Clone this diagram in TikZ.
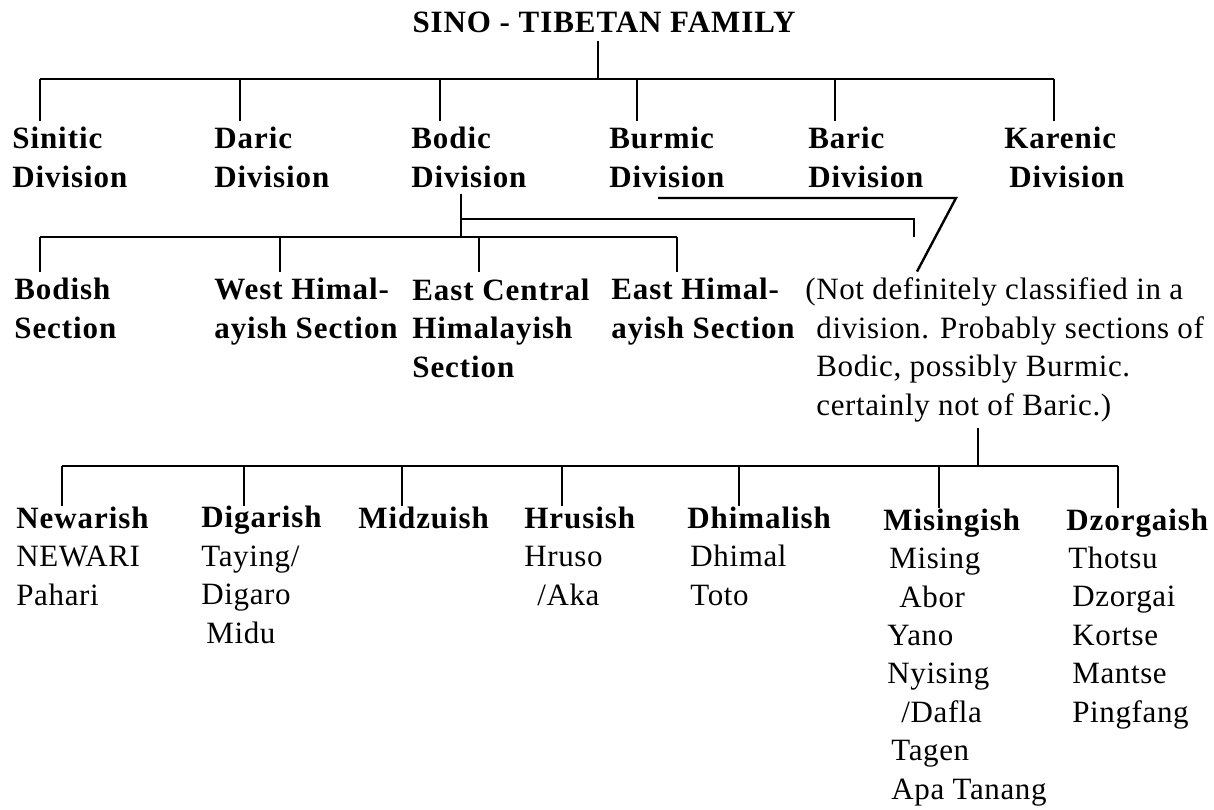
\documentclass[tikz,border=0pt]{standalone}
\usepackage{fontspec}
\setmainfont{Liberation Serif}[LetterSpace=2]
\newfontfamily\hdfont{Liberation Serif}[LetterSpace=3]
\usetikzlibrary{calc}

\tikzset{
	txt/.style={font=\fontsize{15.5}{19.2}\selectfont},
	hd/.style={font=\hdfont\bfseries\fontsize{15.5}{19.2}\selectfont},
	lbl/.style={anchor=base west, align=left, inner xsep=0pt, inner ysep=3pt},
	bar/.style={line width=1.2pt},
	drop/.style={line width=0.6pt}
}

\begin{document}
\begin{tikzpicture}[x=0.5pt,y=-0.5pt] %1px=0.5pt, base = last line
	\newcommand{\barone}{79}
	\newcommand{\bartwo}{237}
	\newcommand{\barthree}{466}
	\useasboundingbox (0,0) rectangle (1214,809);
	\node[hd, anchor=base, inner xsep=0pt, inner ysep=4pt] (fam) at (604,32) {SINO - TIBETAN FAMILY}; %family
	% divisions
	\node[hd,lbl] (sinitic) at (12,187) {Sinitic\\Division};
	\node[hd,lbl] (daric) at (214,187) {Daric\\Division};
	\node[hd,lbl] (bodic) at (411,187) {Bodic\\Division};
	\node[hd,lbl] (burmic) at (609,187) {Burmic\\Division};
	\node[hd,lbl] (baric) at (808,187) {Baric\\Division};
	\node[hd,lbl] (karenic) at (1004,187) {Karenic\\\hspace*{2.5pt}Division};
	\coordinate (famj) at (598,\barone);
	\draw[drop] (fam.south -| famj) -- (famj);
	\draw[bar] (40,\barone) -- (1054,\barone); %bar 1
	\foreach \x/\n in {40/sinitic,240/daric,440/bodic,637/burmic,835/baric,1054/karenic}{
		\draw[drop] (\x,\barone) -- (\x,0 |- \n.north);
	}
	% sections
	\node[hd,lbl] (bodish) at (14,338) {Bodish\\Section};
	\node[hd,lbl] (westh) at (214,338) {West Himal-\\ayish Section};
	\node[hd,lbl] (eastc) at (412,377) {East Central\\Himalayish\\Section};
	\node[hd,lbl] (easth) at (611,338) {East Himal-\\ayish Section};
	\node[txt,lbl] (note) at (805,415) {(Not definitely classified in a\\
		\hspace*{5.5pt}division. Probably sections of\\
		\hspace*{5.5pt}Bodic, possibly Burmic.\\
		\hspace*{5.5pt}certainly not of Baric.)};
	\coordinate (bd) at (461,\bartwo);
	\draw[drop] (bodic.south -| bd) -- (bd); %Bodic
	\coordinate (mid1) at (461,219);
	\coordinate (mid2) at (914,\bartwo);
	\draw[bar] (mid1) -| (mid2);
	\coordinate (bm1) at (658,198);
	\coordinate (bm2) at (956,198);
	\draw[bar] (bm1) -- (bm2) -- (917,0 |- note.north); %Burmic
	\draw[bar] (40,\bartwo) -- (677,\bartwo); %bar 2
	\foreach \x/\n in {40/bodish,280/westh,479/eastc,677/easth}{
		\draw[drop] (\x,\bartwo) -- (\x,0 |- \n.north);
	}
	% groups
	\node[txt,lbl,inner ysep=0pt] (newar) at (16,605) {{\hdfont\bfseries Newarish}\\NEWARI\\Pahari};
	\node[txt,lbl,inner ysep=0pt] (digar) at (201,643) {{\hdfont\bfseries Digarish}\\Taying/\\Digaro\\\hspace*{2.5pt}Midu};
	\node[txt,lbl,inner ysep=0pt] (midzu) at (358,528) {{\hdfont\bfseries Midzuish}};
	\node[txt,lbl,inner ysep=0pt] (hrusi) at (524,605) {{\hdfont\bfseries Hrusish}\\Hruso\\\hspace*{6.5pt}/Aka};
	\node[txt,lbl,inner ysep=0pt] (dhima) at (687,605) {{\hdfont\bfseries Dhimalish}\\\hspace*{1.5pt}Dhimal\\\hspace*{1.5pt}Toto};
	\node[txt,lbl,inner ysep=0pt] (misin) at (883,799) {{\hdfont\bfseries Misingish}\\\hspace*{3pt}Mising\\\hspace*{8pt}Abor\\\hspace*{2pt}Yano\\\hspace*{2pt}Nyising\\\hspace*{9pt}/Dafla\\\hspace*{4pt}Tagen\\\hspace*{4pt}Apa Tanang};
	\node[txt,lbl,inner ysep=0pt] (dzorg) at (1066,722) {{\hdfont\bfseries Dzorgaish}\\\hspace*{1pt}Thotsu\\\hspace*{3pt}Dzorgai\\\hspace*{3pt}Kortse\\\hspace*{3pt}Mantse\\\hspace*{3pt}Pingfang};
	\coordinate (ntj) at (978,\barthree);
	\draw[drop] (note.south -| ntj) -- (ntj);
	\draw[bar] (62,\barthree) -- (1118,\barthree); %bar 3
	\foreach \x/\n in {62/newar,244/digar,402/midzu,562/hrusi,739/dhima,939/misin,1118/dzorg}{
		\draw[drop] (\x,\barthree) -- (\x,0 |- \n.north);
	}
\end{tikzpicture}
\end{document}
